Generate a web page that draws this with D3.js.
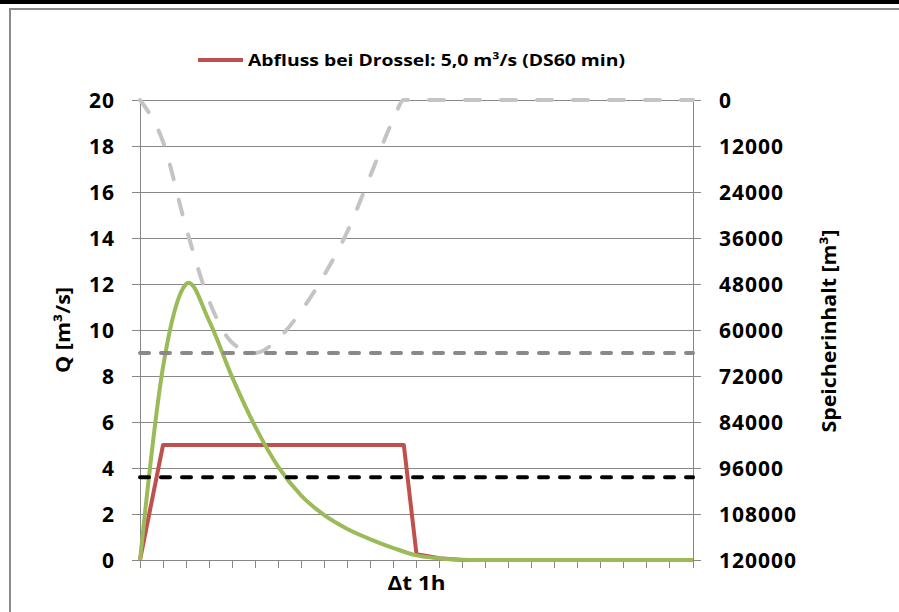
<!DOCTYPE html>
<html><head><meta charset="utf-8">
<script src="https://cdn.jsdelivr.net/npm/d3@7"></script>
<style>body{margin:0;background:#fff}svg{display:block}</style>
</head><body><svg id="c" width="899" height="612"></svg>
<script>
// ---- data ----
const steps = d3.range(25);                       // time steps (categories)
const xTickLabels = ["","","","","","","","","","","","","Δt 1h","","","","","","","","","","","",""];
const zufluss = [0, 8.4, 12.0, 10.4, 7.95, 5.8, 4.05, 2.8, 1.95, 1.35, 0.9, 0.52, 0.2, 0.07, 0.01, 0, 0, 0, 0, 0, 0, 0, 0, 0, 0];
const speicherT = [0, 1, 2, 3, 4, 5, 6, 7, 8, 9, 10, 11, 11.45, 12, 13, 14, 15, 16, 17, 18, 19, 20, 21, 22, 23, 24];
const speicher = [0, 10900, 33300, 52400, 63300, 66000, 62300, 55000, 45600, 34300, 19700, 5000, 0, 0, 0, 0, 0, 0, 0, 0, 0, 0, 0, 0, 0, 0];
const drosselT = [0, 1, 11.45, 12, 13, 14, 24];
const drosselQ = [0, 5, 5, 0.25, 0.08, 0, 0];
const refNames = ["maxSpeicher", "grenzwert"];
const refLevels = [9.0, 3.6];
const refColors = ["#898989", "#000000"];
const leftTicks = [0, 2, 4, 6, 8, 10, 12, 14, 16, 18, 20];
const rightTicks = [0, 12000, 24000, 36000, 48000, 60000, 72000, 84000, 96000, 108000, 120000];
const legendLabel = "Abfluss bei Drossel: 5,0 m³/s (DS60 min)";
const leftTitle = "Q [m³/s]";
const rightTitle = "Speicherinhalt [m³]";

// ---- layout ----
const svg = d3.select("#c");
const L = 140, R = 693, T = 100, B = 560;
const x = d3.scaleLinear().domain([0, 24]).range([L, R]);
const y = d3.scaleLinear().domain([0, 20]).range([B, T]);
const y2 = d3.scaleLinear().domain([0, 120000]).range([T, B]);
const font = "'Open Sans', sans-serif";
const gridCol = "#878787";

// frame
svg.append("rect").attr("x", 0).attr("y", 0).attr("width", 899).attr("height", 4).attr("fill", "#000");
svg.append("path").attr("d", "M10,612V9H899").attr("fill", "none").attr("stroke", "#8a8a8a").attr("stroke-width", 2);

// gridlines
svg.append("g").selectAll("line").data(leftTicks).join("line")
  .attr("x1", L - 8).attr("x2", R + 8).attr("y1", d => y(d)).attr("y2", d => y(d))
  .attr("stroke", gridCol).attr("stroke-width", 1).attr("shape-rendering", "crispEdges");
// axis lines
svg.append("line").attr("x1", L).attr("x2", L).attr("y1", T).attr("y2", B)
  .attr("stroke", gridCol).attr("shape-rendering", "crispEdges");
svg.append("line").attr("x1", R).attr("x2", R).attr("y1", T).attr("y2", B)
  .attr("stroke", gridCol).attr("shape-rendering", "crispEdges");
// x ticks
svg.append("g").selectAll("line").data(steps).join("line")
  .attr("x1", d => x(d)).attr("x2", d => x(d)).attr("y1", B).attr("y2", B + 8)
  .attr("stroke", gridCol).attr("shape-rendering", "crispEdges");

// tick labels
svg.append("g").selectAll("text").data(leftTicks).join("text")
  .attr("x", 115).attr("y", d => y(d)).attr("dy", "0.36em").attr("text-anchor", "end")
  .attr("font-family", font).attr("font-weight", 700).attr("font-size", 21).attr("letter-spacing", 1)
  .text(d => d);
svg.append("g").selectAll("text").data(rightTicks).join("text")
  .attr("x", 719).attr("y", d => y2(d)).attr("dy", "0.36em").attr("text-anchor", "start")
  .attr("font-family", font).attr("font-weight", 700).attr("font-size", 21).attr("letter-spacing", 1)
  .text(d => d);
svg.append("g").selectAll("text").data(steps.filter(i => xTickLabels[i] !== "")).join("text")
  .attr("x", d => x(d)).attr("y", 590).attr("text-anchor", "middle")
  .attr("font-family", font).attr("font-weight", 700).attr("font-size", 20)
  .attr("textLength", 58).attr("lengthAdjust", "spacingAndGlyphs")
  .text(d => xTickLabels[d]);

// axis titles
svg.append("text").attr("transform", "translate(70,330) rotate(-90)").attr("text-anchor", "middle")
  .attr("font-family", font).attr("font-weight", 700).attr("font-size", 19)
  .attr("textLength", 86).attr("lengthAdjust", "spacingAndGlyphs").text(leftTitle);
svg.append("text").attr("transform", "translate(836,331) rotate(-90)").attr("text-anchor", "middle")
  .attr("font-family", font).attr("font-weight", 700).attr("font-size", 19)
  .attr("textLength", 203).attr("lengthAdjust", "spacingAndGlyphs").text(rightTitle);

// series
const lineSmooth = d3.line().curve(d3.curveCatmullRom.alpha(0));
svg.append("path")
  .attr("d", d3.line()(drosselT.map((t, i) => [x(t), y(drosselQ[i])])))
  .attr("fill", "none").attr("stroke", "#c0504d").attr("stroke-width", 4).attr("stroke-linejoin", "round");
svg.append("path")
  .attr("d", lineSmooth(steps.map(i => [x(i), y(zufluss[i])])))
  .attr("fill", "none").attr("stroke", "#9bbb59").attr("stroke-width", 4).attr("stroke-linejoin", "round");
svg.append("path")
  .attr("d", d3.line().curve(d3.curveMonotoneX)(speicherT.map((t, i) => [x(t), y2(speicher[i])])))
  .attr("fill", "none").attr("stroke", "#c4c4c4").attr("stroke-width", 4)
  .attr("stroke-dasharray", "15,21").attr("stroke-linecap", "round");
svg.append("g").selectAll("line").data(refLevels).join("line")
  .attr("x1", L).attr("x2", R).attr("y1", d => y(d)).attr("y2", d => y(d))
  .attr("stroke", (d, i) => refColors[i]).attr("stroke-width", 4)
  .attr("stroke-dasharray", "9,12").attr("stroke-linecap", "round");

// legend
svg.append("line").attr("x1", 198).attr("x2", 243).attr("y1", 60).attr("y2", 60)
  .attr("stroke", "#c0504d").attr("stroke-width", 4);
svg.append("text").attr("x", 248).attr("y", 66).attr("font-family", font).attr("font-weight", 700)
  .attr("font-size", 16).attr("textLength", 377).attr("lengthAdjust", "spacingAndGlyphs").text(legendLabel);
</script></body></html>
